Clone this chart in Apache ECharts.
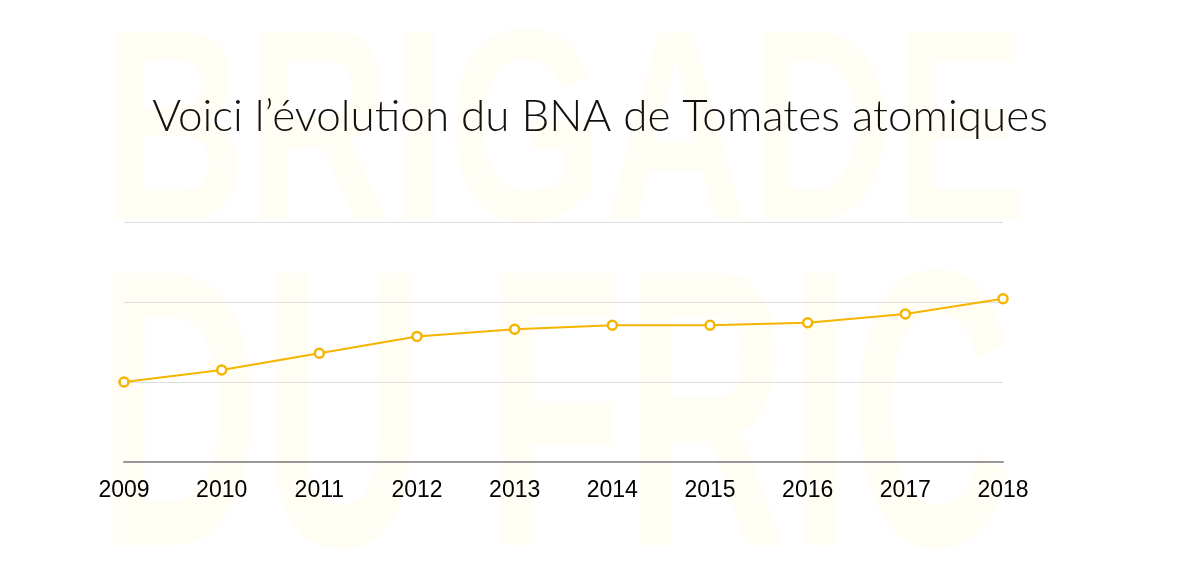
<!DOCTYPE html>
<html>
<head>
<meta charset="utf-8">
<script src="https://cdn.jsdelivr.net/npm/echarts@6/dist/echarts.min.js"></script>
<style>
html,body{margin:0;padding:0;background:#fff;}
#chart{width:1200px;height:575px;}
</style>
</head>
<body>
<div id="chart"></div>
<script>
const years = ['2009','2010','2011','2012','2013','2014','2015','2016','2017','2018'];
const bnaValues = [1.0, 1.15, 1.36, 1.57, 1.66, 1.71, 1.71, 1.74, 1.85, 2.04];
const titleText = 'Voici l\u2019évolution du BNA de Tomates atomiques';
const watermarkLines = ['BRIGADE', 'DU FRIC'];

const chart = echarts.init(document.getElementById('chart'));
const wmColor = '#fffdf4';
chart.setOption({
  backgroundColor: '#ffffff',
  animation: false,
  title: {
    text: titleText,
    left: 'center',
    top: 90,
    textStyle: {
      fontFamily: 'Lato',
      fontWeight: 300,
      fontSize: 44,
      color: '#111111'
    }
  },
  graphic: [
    {
      type: 'text', z: -100, silent: true,
      x: 102, y: 144, scaleX: 0.732,
      style: { text: watermarkLines[0], x: 0, y: 0, align: 'left', verticalAlign: 'middle',
        font: 'bold 274px "Liberation Sans"', fill: wmColor }
    },
    {
      type: 'text', z: -100, silent: true,
      x: 98, y: 436, scaleX: 0.57,
      style: { text: watermarkLines[1], x: 0, y: 0, align: 'left', verticalAlign: 'middle',
        font: 'bold 396px "Liberation Sans"', fill: wmColor }
    }
  ],
  grid: { left: 124, right: 197, top: 222, bottom: 113, containLabel: false },
  xAxis: {
    type: 'category',
    data: years,
    boundaryGap: false,
    axisLine: { show: true, lineStyle: { color: '#999999', width: 2 } },
    axisTick: { show: false },
    axisLabel: { color: '#000000', fontSize: 23, fontFamily: 'Liberation Sans', margin: 17 },
    splitLine: { show: false }
  },
  yAxis: {
    type: 'value',
    min: 0, max: 3, interval: 1,
    axisLine: { show: false },
    axisTick: { show: false },
    axisLabel: { show: false },
    splitLine: { show: true, lineStyle: { color: '#dddddd', width: 1 } }
  },
  series: [{
    type: 'line',
    data: bnaValues,
    symbol: 'circle',
    symbolSize: 9,
    lineStyle: { color: '#f5b400', width: 2 },
    itemStyle: { color: '#ffffff', borderColor: '#f5b400', borderWidth: 2.5 },
    z: 5
  }]
});
</script>
</body>
</html>
